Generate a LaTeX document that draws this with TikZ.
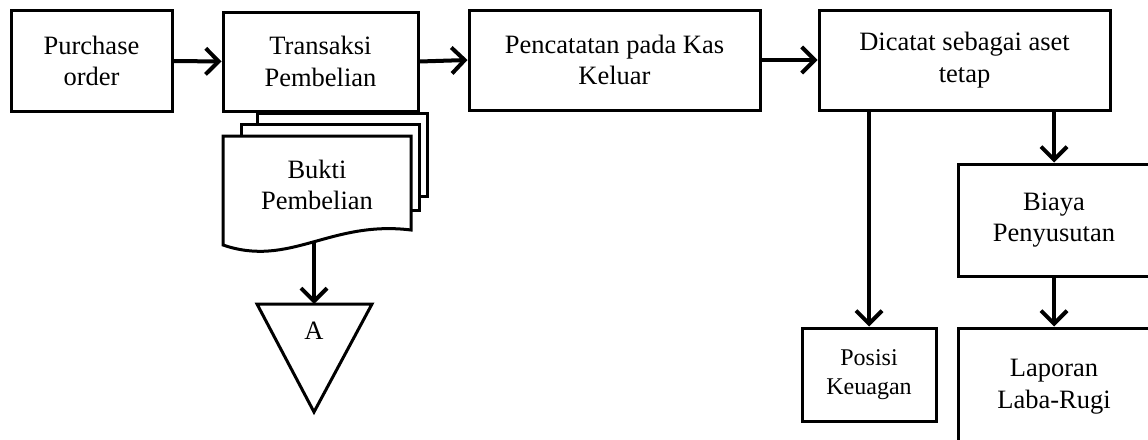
\documentclass[tikz,border=0pt]{standalone}
\usepackage{fontspec}
\setmainfont{Liberation Serif}
\usetikzlibrary{arrows.meta}
\tikzset{
  box/.style={draw, line width=3pt, rectangle, align=center, inner sep=0pt,
    font=\fontsize{26.5}{31.5}\selectfont},
  lbl/.style={align=center, inner sep=0pt, font=\fontsize{26.5}{31.5}\selectfont},
  shp/.style={draw, line width=3pt, fill=white, line join=miter},
  arr/.style={line width=4pt, -{Straight Barb[length=13pt, width=26pt, line width=4pt]}},
}
\begin{document}
\begin{tikzpicture}[x=1pt, y=-1pt]
\useasboundingbox (0,0) rectangle (1148,439);
\begin{scope}
\clip (0,0) rectangle (1148,439);
% top row
\node[box, minimum width=161pt, minimum height=101pt] (po) at (91.5,61) {Purchase\\order};
\node[box, minimum width=195pt, minimum height=99pt] (tp) at (320.5,61.5) {Transaksi\\Pembelian};
\node[box, minimum width=291pt, minimum height=100pt] (pk) at (614.5,60) {Pencatatan pada Kas\\Keluar};
\node[box, minimum width=291pt, minimum height=100pt] (dc) at (964.5,60) {Dicatat sebagai aset\\tetap};
% right column
\node[box, minimum width=134pt, minimum height=93pt, font=\fontsize{24}{29}\selectfont] (pos) at (869,374.5) {Posisi\\Keuagan};
\node[box, minimum width=192pt, minimum height=112pt] (by) at (1054,220) {Biaya\\Penyusutan};
\node[box, minimum width=192pt, minimum height=117pt] (lr) at (1054,386.5) {Laporan\\Laba-Rugi};
% document stack
\draw[shp] (257,113) rectangle (427,196);
\draw[shp] (241,124) rectangle (419,210);
\draw[shp] (411,230) -- (411,136) -- (223,136) -- (223,245)
  .. controls (290,268) and (330,220) .. (411,230) -- cycle;
\node[lbl] (doc) at (317,185) {Bukti\\Pembelian};
\coordinate (docb) at (314,243);
% off-page connector
\draw[shp] (257,304) -- (372,304) -- (314,412) -- cycle;
\coordinate (tritop) at (314,304);
\node[lbl] (tri) at (314,331) {A};
% connectors
\draw[arr] (po.east) -- (tp.west);
\draw[arr] (tp.east) -- (pk.west);
\draw[arr] (pk.east) -- (dc.west);
\draw[arr] (dc.south -| pos.north) -- (pos.north);
\draw[arr] (dc.south -| by.north) -- (by.north);
\draw[arr] (by.south) -- (lr.north);
\draw[arr] (docb) -- (tritop);
\end{scope}
\end{tikzpicture}
\end{document}
